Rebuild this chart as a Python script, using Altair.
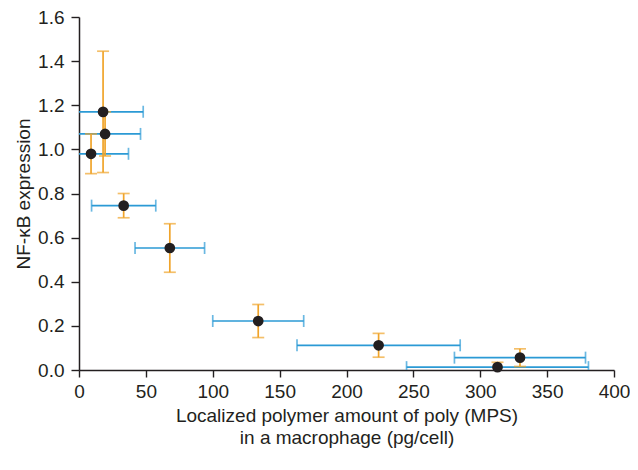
import altair as alt
import pandas as pd

x_vals = [18, 19.5, 9, 33.4, 67.9, 134, 224, 329.7, 312.9]
y_vals = [1.17, 1.07, 0.98, 0.745, 0.553, 0.222, 0.112, 0.056, 0.013]
x_err = [30, 26.5, 28, 24, 26, 34, 61, 49, 68]
y_err = [0.275, 0.10, 0.09, 0.055, 0.11, 0.075, 0.054, 0.04, 0.022]

df = pd.DataFrame({"x": x_vals, "y": y_vals, "xe": x_err, "ye": y_err})
df["xlo"] = df["x"] - df["xe"]
df["xhi"] = df["x"] + df["xe"]
df["ylo"] = df["y"] - df["ye"]
df["yhi"] = df["y"] + df["ye"]

ORANGE = "#F0A42A"
BLUE = "#2B9AD5"
DARK = "#231F20"
FONT = "Liberation Sans"

xs = alt.Scale(domain=[0, 400], nice=False)
ys = alt.Scale(domain=[0, 1.6], nice=False)

xax = alt.Axis(values=list(range(0, 401, 50)), title=["Localized polymer amount of poly (MPS)", "in a macrophage (pg/cell)"],
               grid=False, tickSize=7)
yax = alt.Axis(values=[0, 0.2, 0.4, 0.6, 0.8, 1.0, 1.2, 1.4, 1.6], format=".1f", title="NF-κB expression",
               grid=False, tickSize=8)

base = alt.Chart(df)
SW = 1.7
CAP = 12

hbar = base.mark_rule(color=BLUE, strokeWidth=SW, clip=True).encode(
    x=alt.X("xlo:Q", scale=xs, axis=xax), x2="xhi", y=alt.Y("y:Q", scale=ys, axis=yax))
hcap_lo = base.mark_tick(color=BLUE, orient="vertical", size=CAP, thickness=SW, clip=True).encode(
    x=alt.X("xlo:Q", scale=xs), y=alt.Y("y:Q", scale=ys))
hcap_hi = base.mark_tick(color=BLUE, orient="vertical", size=CAP, thickness=SW, clip=True).encode(
    x=alt.X("xhi:Q", scale=xs), y=alt.Y("y:Q", scale=ys))

vbar = base.mark_rule(color=ORANGE, strokeWidth=SW, clip=True).encode(
    x=alt.X("x:Q", scale=xs), y=alt.Y("ylo:Q", scale=ys), y2="yhi")
vcap_lo = base.mark_tick(color=ORANGE, orient="horizontal", size=CAP, thickness=SW, clip=True).encode(
    x=alt.X("x:Q", scale=xs), y=alt.Y("ylo:Q", scale=ys))
vcap_hi = base.mark_tick(color=ORANGE, orient="horizontal", size=CAP, thickness=SW, clip=True).encode(
    x=alt.X("x:Q", scale=xs), y=alt.Y("yhi:Q", scale=ys))

pts = base.mark_circle(color=DARK, opacity=1, size=115).encode(
    x=alt.X("x:Q", scale=xs), y=alt.Y("y:Q", scale=ys))

chart = alt.layer(hbar, hcap_lo, hcap_hi, vbar, vcap_lo, vcap_hi, pts).properties(
    width=535, height=353,
    autosize=alt.AutoSizeParams(type="none"),
    padding={"left": 71, "top": 9, "right": 16, "bottom": 83},
).configure_view(stroke=None).configure_axis(
    domainColor=DARK, domainWidth=1.5, tickColor=DARK, tickWidth=1.4,
    labelFont=FONT, labelFontSize=19, labelColor=DARK, labelPadding=5,
    titleFont=FONT, titleFontSize=19, titleColor=DARK, titleFontWeight="normal",
).configure_axisX(titlePadding=5, labelFlush=False, titleLineHeight=22).configure_axisY(titlePadding=4, labelPadding=7)

chart.save("out.html", embed_options={"renderer": "svg", "actions": False})
